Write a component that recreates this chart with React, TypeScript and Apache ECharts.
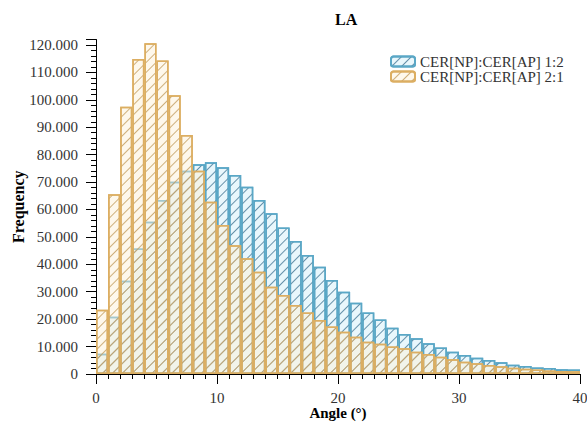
import React, { useEffect, useRef } from "react";
import * as echarts from "echarts";

const bins = Array.from({ length: 40 }, (_, i) => String(i));
const ratio12 = [7400, 20900, 34000, 45800, 55500, 63500, 70100, 74100, 76500, 77200, 75400, 72600, 68300, 63500, 58600, 53400, 48500, 43400, 39100, 34300, 30000, 26000, 22400, 19900, 16900, 14600, 13000, 11200, 9700, 8100, 6900, 5900, 5100, 4300, 3400, 2900, 2400, 2200, 1700, 1600];
const ratio21 = [23400, 65600, 97500, 114900, 120600, 114300, 101700, 87200, 74100, 62800, 54300, 47000, 42200, 37300, 31800, 28800, 25200, 22400, 19700, 17300, 15400, 13600, 11800, 11000, 10000, 9400, 8100, 7300, 6300, 5400, 4500, 3900, 3300, 2800, 2300, 1900, 1600, 1300, 1100, 1000];
const seriesNames = ["CER[NP]:CER[AP] 1:2", "CER[NP]:CER[AP] 2:1"];

const SERIF = "'Liberation Serif', 'DejaVu Serif', serif";

export default function App() {
  const ref = useRef<HTMLDivElement>(null);
  useEffect(() => {
    if (!ref.current) return;
    const chart = echarts.init(ref.current, undefined, { renderer: "svg" });
    const hatch = (color: string) => ({
      symbol: "rect",
      symbolSize: 1,
      color,
      dashArrayX: [1, 0],
      dashArrayY: [1, 6],
      rotation: -Math.PI / 4,
    });
    chart.setOption({
      animation: false,
      title: {
        text: "LA",
        left: 330,
        top: 6,
        textStyle: { fontFamily: SERIF, fontWeight: "bold", fontSize: 16, color: "#000" },
      },
      legend: {
        orient: "vertical",
        left: 385,
        top: 49,
        itemGap: 0,
        itemWidth: 24,
        itemHeight: 10,
        textStyle: { fontFamily: SERIF, fontSize: 15, color: "#333" },
        data: seriesNames,
      },
      grid: { left: 96, right: 7, top: 39.5, bottom: 49, containLabel: false, outerBoundsMode: "none" },
      xAxis: [
        { type: "category", data: bins, show: false, boundaryGap: true },
        {
          type: "value",
          min: 0,
          max: 40,
          interval: 10,
          position: "bottom",
          name: "Angle (°)",
          nameLocation: "middle",
          nameGap: 31,
          nameMoveOverlap: false,
          nameTextStyle: { fontFamily: SERIF, fontWeight: "bold", fontSize: 15, color: "#000" },
          axisLine: { show: true, lineStyle: { color: "#000", width: 1 } },
          axisTick: { show: true, length: 10, lineStyle: { color: "#000" } },
          minorTick: { show: true, splitNumber: 10, length: 5, lineStyle: { color: "#000" } },
          splitLine: { show: false },
          axisLabel: { fontFamily: SERIF, fontSize: 15, color: "#333", margin: 16 },
        },
      ],
      yAxis: {
        type: "value",
        min: 0,
        max: 122000,
        interval: 10000,
        name: "Frequency",
        nameLocation: "middle",
        nameGap: 70,
        nameMoveOverlap: false,
        nameTextStyle: { fontFamily: SERIF, fontWeight: "bold", fontSize: 16, color: "#000" },
        axisLine: { show: true, lineStyle: { color: "#000", width: 1 } },
        axisTick: { show: true, length: 10, lineStyle: { color: "#000" } },
        minorTick: { show: true, splitNumber: 5, length: 5, lineStyle: { color: "#000" } },
        splitLine: { show: false },
        axisLabel: {
          fontFamily: SERIF,
          fontSize: 15,
          color: "#333",
          margin: 18,
          formatter: (v: number) => (v === 0 ? "0" : v % 10000 === 0 ? v / 1000 + ".000" : ""),
        },
      },
      series: [
        {
          name: seriesNames[0],
          type: "bar",
          xAxisIndex: 0,
          data: ratio12,
          barGap: "-100%",
          barCategoryGap: 0,
          itemStyle: {
            color: "rgba(215,240,250,0.55)",
            borderColor: "#5aa7c6",
            borderWidth: 1.5,
            decal: hatch("rgba(70,120,150,0.8)"),
          },
        },
        {
          name: seriesNames[1],
          type: "bar",
          xAxisIndex: 0,
          data: ratio21,
          barGap: "-100%",
          barCategoryGap: 0,
          itemStyle: {
            color: "rgba(253,240,212,0.45)",
            borderColor: "#dcae62",
            borderWidth: 1.5,
            decal: hatch("rgba(195,158,95,0.8)"),
          },
        },
      ],
    });
    return () => chart.dispose();
  }, []);
  return <div ref={ref} style={{ width: 587, height: 423, position: "absolute", left: 0, top: 0 }} />;
}
